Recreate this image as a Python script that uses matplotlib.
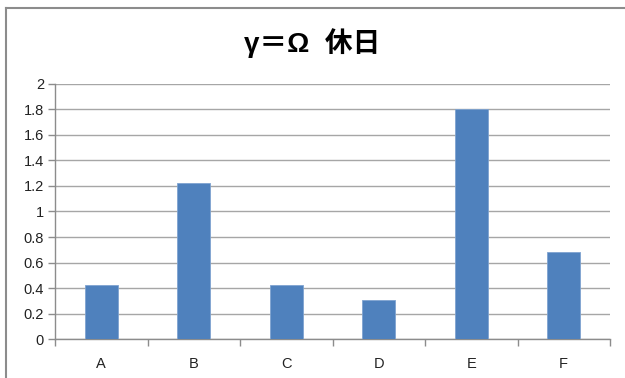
import matplotlib.pyplot as plt
from matplotlib.lines import Line2D
import numpy as np

plt.rcParams['font.family'] = ['Liberation Sans', 'Noto Sans CJK JP', 'DejaVu Sans']

# data
categories = ['A', 'B', 'C', 'D', 'E', 'F']
values = [0.42, 1.225, 0.425, 0.31, 1.80, 0.68]
yticks = [0, 0.2, 0.4, 0.6, 0.8, 1, 1.2, 1.4, 1.6, 1.8, 2]
ytick_labels = ['0', '0.2', '0.4', '0.6', '0.8', '1', '1.2', '1.4', '1.6', '1.8', '2']
title = 'γ＝Ω  休日'

fig = plt.figure(figsize=(6.25, 3.78), dpi=100)
ax = fig.add_axes([0.088, 0.103, 0.888, 0.675])

x = np.arange(len(categories))
ax.bar(x, values, width=0.36, color='#4F81BD', edgecolor='#7FA3D0', linewidth=0.6, zorder=3)

ax.set_xlim(-0.5, len(categories) - 0.5)
ax.set_ylim(0, 2)
ax.set_yticks(yticks)
ax.set_yticklabels(ytick_labels)
ax.yaxis.grid(True, color='#A6A6A6', linewidth=1.0, zorder=0)

# category labels centred, tick marks on the boundaries (Excel style)
ax.set_xticks(x)
ax.set_xticklabels(categories)
ax.tick_params(axis='x', length=0, pad=13, labelsize=10.5, labelcolor='#222222')
ax.set_xticks(np.arange(len(categories) + 1) - 0.5, minor=True)
ax.tick_params(axis='x', which='minor', length=5, color='#8C8C8C', width=1)
ax.tick_params(axis='y', length=5, color='#8C8C8C', width=1, labelsize=10.5,
               labelcolor='#222222', pad=3)

for side in ['top', 'right']:
    ax.spines[side].set_visible(False)
for side in ['left', 'bottom']:
    ax.spines[side].set_color('#8C8C8C')
    ax.spines[side].set_linewidth(1.0)

fig.text(0.5, 0.885, title, ha='center', va='center', fontsize=20, fontweight='bold')

# outer chart border (only top and left visible in the crop)
fig.add_artist(Line2D([0.0096, 1.0], [0.979, 0.979], transform=fig.transFigure,
                      color='#8C8C8C', linewidth=1.5))
fig.add_artist(Line2D([0.0096, 0.0096], [0.0, 0.979], transform=fig.transFigure,
                      color='#8C8C8C', linewidth=1.5))

fig.savefig('out.png', dpi=100)
